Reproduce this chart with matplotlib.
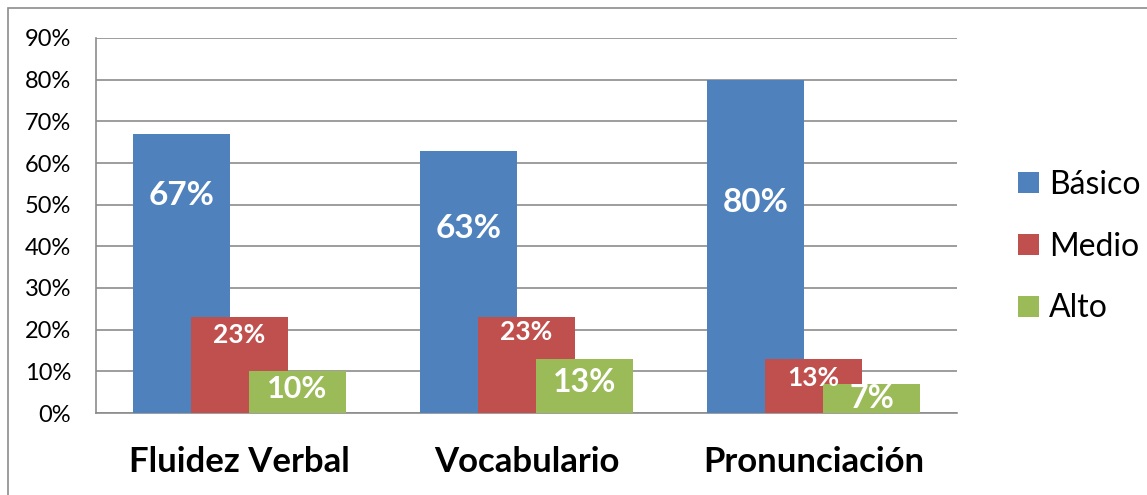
import matplotlib.pyplot as plt
import numpy as np
from matplotlib.patches import Rectangle

# --------- DATA ---------
categories = ["Fluidez Verbal", "Vocabulario", "Pronunciación"]
series_names = ["Básico", "Medio", "Alto"]
basico = [67, 63, 80]
medio = [23, 23, 13]
alto = [10, 13, 7]

colors = ["#4F81BD", "#C0504D", "#9BBB59"]

# label heights (manually placed in the original, value units)
label_y = [[52.3, 44.4, 50.6], [18.7, 19.4, 8.4], [5.8, 7.2, 3.6]]
label_size = [[24, 24, 24], [19, 19, 19], [22, 23, 23]]

plt.rcParams['font.family'] = ['Lato', 'DejaVu Sans']

fig = plt.figure(figsize=(11.47, 4.95), dpi=100)
ax = fig.add_axes([96 / 1147, 82 / 495, 861 / 1147, 375 / 495])

# outer frame
fig.patches.append(Rectangle((8 / 1147, -0.1), 1.2, 1 - 8 / 495 + 0.1, transform=fig.transFigure,
                             fill=False, edgecolor="#8c8c8c", linewidth=1.2))

x = np.arange(len(categories))
width = 0.338
offsets = [-0.202, 0, 0.202]

for i, vals in enumerate([basico, medio, alto]):
    ax.bar(x + offsets[i], vals, width, color=colors[i], label=series_names[i], zorder=3)
    for j, v in enumerate(vals):
        ax.text(x[j] + offsets[i], label_y[i][j], f"{v}%", ha="center", va="center",
                color="white", fontweight="bold", fontsize=label_size[i][j], zorder=4)

ax.set_xlim(-0.5, 2.5)
ax.set_ylim(0, 90)
ax.set_yticks(range(0, 91, 10))
ax.set_yticklabels([f"{t}%" for t in range(0, 91, 10)], fontsize=17)
ax.set_xticks(x)
ax.set_xticklabels(categories, fontsize=25, fontweight="bold")
ax.tick_params(axis="both", length=0)
ax.tick_params(axis="y", pad=18)
ax.tick_params(axis="x", pad=24)
ax.yaxis.grid(True, color="#8c8c8c", linewidth=1.2, zorder=0)
for s in ["top", "right"]:
    ax.spines[s].set_visible(False)
for s in ["left", "bottom"]:
    ax.spines[s].set_color("#8c8c8c")
    ax.spines[s].set_linewidth(1.2)

ax.legend(loc="center left", bbox_to_anchor=(1.038, 0.444), frameon=False, fontsize=23,
          handlelength=0.65, handleheight=0.65, handletextpad=0.3, labelspacing=1.0)

fig.savefig("out.png", dpi=100)
